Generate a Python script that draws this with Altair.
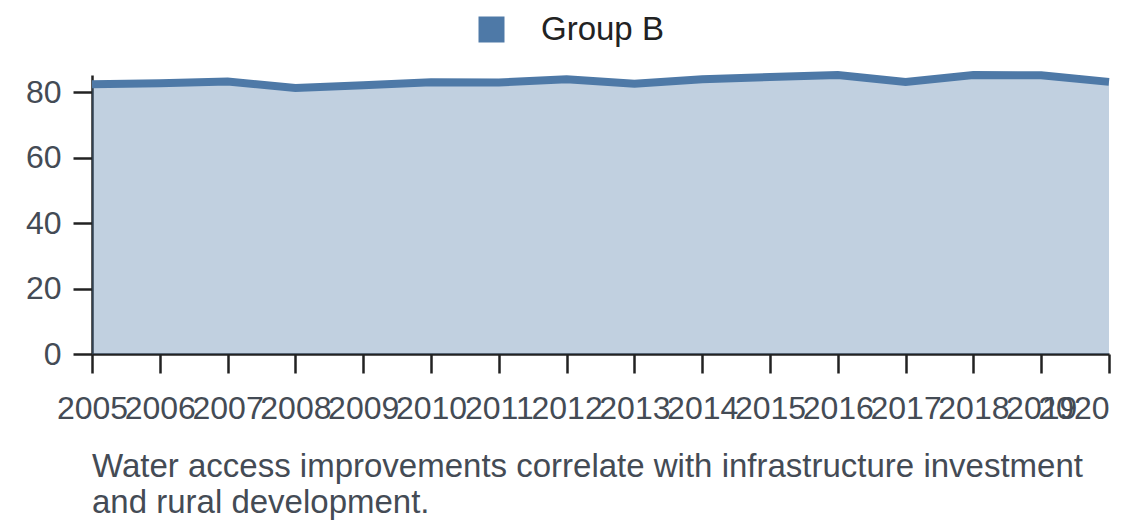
import altair as alt
import pandas as pd

years = ["2005", "2006", "2007", "2008", "2009", "2010", "2011", "2012",
         "2013", "2014", "2015", "2016", "2017", "2018", "2019", "2020"]
values = [82.4, 82.7, 83.2, 81.2, 82.1, 83.0, 82.9, 83.9,
          82.5, 83.9, 84.6, 85.2, 83.1, 85.2, 85.1, 83.1]
group_name = "Group B"
y_ticks = [0, 20, 40, 60, 80]
caption = ["Water access improvements correlate with infrastructure investment",
           "and rural development."]

df = pd.DataFrame({"year": years, "value": values, "group": [group_name] * len(years)})

FONT = "Liberation Sans"
BLUE = "#4e79a7"

x_enc = alt.X(
    "year:O",
    title=None,
    scale=alt.Scale(type="point", padding=0),
    axis=alt.Axis(
        labelAngle=0,
        labelFontSize=32,
        labelFont=FONT,
        labelColor="#444b55",
        labelPadding=20,
        tickSize=19,
        tickWidth=2.5,
        tickColor="#222222",
        domainWidth=2.5,
        domainColor="#222222",
        labelOverlap=False,
        labelAlign={"expr": "datum.value == '2020' ? 'right' : 'center'"},
        grid=False,
    ),
)
y_enc = alt.Y(
    "value:Q",
    title=None,
    scale=alt.Scale(zero=True, nice=False),
    axis=alt.Axis(
        values=y_ticks,
        labelFontSize=32,
        labelFont=FONT,
        labelColor="#444b55",
        labelPadding=12,
        tickSize=19,
        tickWidth=2.5,
        tickColor="#222222",
        domainWidth=2.5,
        domainColor="#222222",
        grid=False,
    ),
)
legend = alt.Legend(
    title=None,
    orient="none",
    legendX=383,
    legendY=-62,
    symbolType="square",
    symbolSize=676,
    symbolOpacity=1,
    symbolFillColor=BLUE,
    symbolStrokeWidth=0,
    labelFontSize=33,
    labelFont=FONT,
    labelColor="#222222",
    labelOffset=33,
)
color_enc = alt.Color("group:N", scale=alt.Scale(range=[BLUE]), legend=legend)

area = alt.Chart(df).mark_area(opacity=0.35).encode(x=x_enc, y=y_enc, color=color_enc)
line = alt.Chart(df).mark_line(strokeWidth=8).encode(x=x_enc, y=y_enc, color=color_enc)

chart = (
    alt.layer(area, line)
    .properties(
        width=1017,
        height=279,
        autosize=alt.AutoSizeParams(type="none"),
        padding={"left": 84, "top": 67, "right": 23, "bottom": 172},
        title=alt.TitleParams(
            text=caption,
            orient="bottom",
            anchor="start",
            frame="group",
            fontSize=33,
            font=FONT,
            fontWeight="normal",
            color="#444b55",
            lineHeight=36,
            offset=27,
        ),
    )
    .configure_view(stroke=None)
)

chart.save("out.html", embed_options={"renderer": "svg", "actions": False})
